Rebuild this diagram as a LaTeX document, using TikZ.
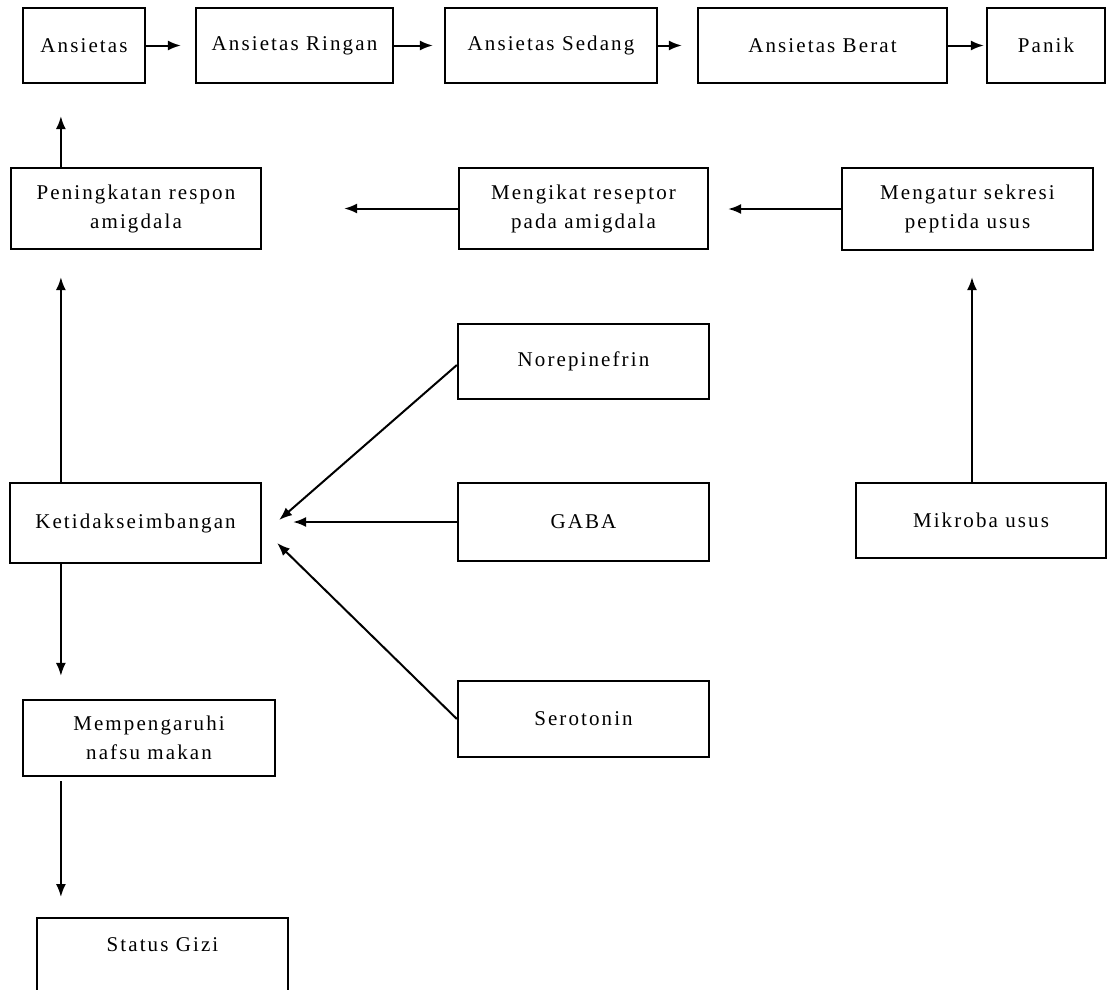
\documentclass[tikz,border=0pt]{standalone}
\usepackage{fontspec}
\setmainfont{Liberation Serif}[LetterSpace=10]
\usepackage{tikz}
\usetikzlibrary{arrows.meta}

\begin{document}
\begin{tikzpicture}[x=1pt,y=-1pt,
    kotak/.style={draw, line width=2.2pt, inner sep=0pt, align=center,
      font=\fontsize{21}{29}\selectfont},
    panah/.style={line width=2pt, -{Latex[length=13pt,width=10pt]}}]
  \def\W{1108} \def\H{989}
  \useasboundingbox (0,0) rectangle (\W,\H);
  \clip (0,0) rectangle (\W,\H);

  % ----- TINGKAT ANSIETAS -----
  \node[kotak, minimum width=122pt, minimum height=75pt] (ans) at (84,45.5) {Ansietas};
  \node[kotak, minimum width=197pt, minimum height=75pt] (ring) at (294.5,45.5) {Ansietas Ringan};
  \node[kotak, minimum width=212pt, minimum height=75pt] (sed) at (551,45.5) {Ansietas Sedang};
  \node[kotak, minimum width=249pt, minimum height=75pt] (ber) at (822.5,45.5) {Ansietas Berat};
  \node[kotak, minimum width=118pt, minimum height=75pt] (pan) at (1046,45.5) {Panik};

  % ----- JALUR AMIGDALA -----
  \node[kotak, minimum width=250pt, minimum height=81pt] (pen) at (136,208.5) {Peningkatan respon\\amigdala};
  \node[kotak, minimum width=249pt, minimum height=81pt] (ikat) at (583.5,208.5) {Mengikat reseptor\\pada amigdala};
  \node[kotak, minimum width=251pt, minimum height=82pt] (atur) at (967.5,209) {Mengatur sekresi\\peptida usus};

  % ----- NEUROTRANSMITER -----
  \node[kotak, minimum width=251pt, minimum height=75pt] (nore) at (583.5,361.5) {Norepinefrin};
  \node[kotak, minimum width=251pt, minimum height=78pt] (gaba) at (583.5,522) {GABA};
  \node[kotak, minimum width=251pt, minimum height=76pt] (sero) at (583.5,719) {Serotonin};
  \node[kotak, minimum width=251pt, minimum height=80pt] (ketidak) at (135.5,523) {Ketidakseimbangan};
  \node[kotak, minimum width=250pt, minimum height=75pt] (mikroba) at (981,520.5) {Mikroba usus};

  % ----- NAFSU MAKAN DAN GIZI -----
  \node[kotak, minimum width=252pt, minimum height=76pt] (memp) at (149,738) {Mempengaruhi\\nafsu makan};
  \node[kotak, anchor=north, minimum width=251pt, text height=15pt, text depth=60pt,
        inner ysep=18pt] (gizi) at (162.5,917) {Status Gizi};

  % ----- PANAH -----
  \draw[panah, shorten >=14pt] (ans) -- (ring);
  \draw[panah, shorten >=11pt] (ring) -- (sed);
  \draw[panah, shorten >=15pt] (sed) -- (ber);
  \draw[panah, shorten >=2pt] (ber) -- (pan);

  \draw[panah, shorten >=32pt] ([xshift=51pt]pen.north west) -- ([xshift=51pt]pen.north west |- ans.south);
  \draw[panah, shorten >=82pt] (ikat) -- (pen);
  \draw[panah, shorten >=19pt] (atur.west) -- (atur.west -| ikat.east);
  \draw[panah, shorten >=26pt] ([xshift=-9pt]mikroba.north) -- ([xshift=-9pt]mikroba.north |- atur.south);

  \draw[panah, shorten >=27pt] ([xshift=52pt]ketidak.north west) -- ([xshift=52pt]ketidak.north west |- pen.south);
  \draw[panah, shorten >=23pt] ([xshift=52pt]ketidak.south west) -- ([xshift=52pt]ketidak.south west |- memp.north);
  \draw[panah, shorten <=4pt, shorten >=20pt] ([xshift=39pt]memp.south west) -- ([xshift=39pt]memp.south west |- gizi.north);

  \draw[panah] ([yshift=-3.5pt]nore.west) -- ([xshift=17pt,yshift=3pt]ketidak.east);
  \draw[panah, shorten >=31pt] (gaba.west) -- (gaba.west -| ketidak.east);
  \draw[panah] (sero.west) -- ([xshift=15pt,yshift=-20pt]ketidak.east);
\end{tikzpicture}
\end{document}
